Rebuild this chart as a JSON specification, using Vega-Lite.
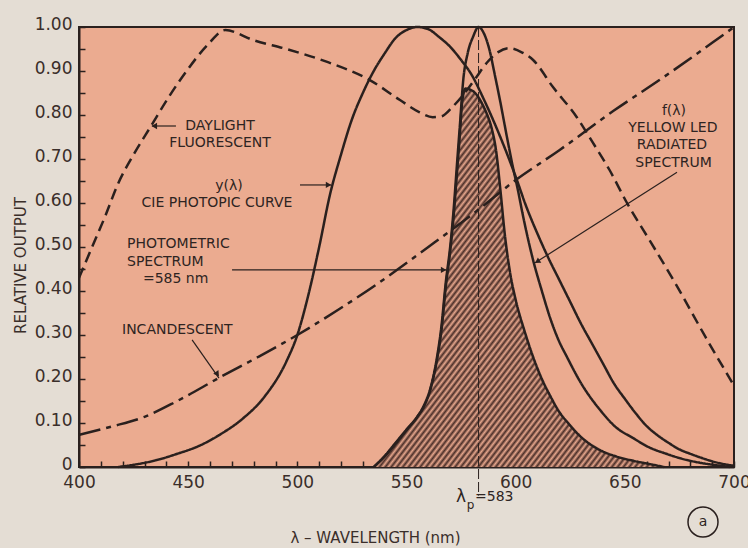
{
"$schema": "https://vega.github.io/schema/vega-lite/v6.json",
"width": 655, "height": 440,
"autosize": {"type": "none"},
"padding": {"left": 79, "top": 27, "right": 14, "bottom": 81},
"background": "#e4ddd4",
"config": {
  "view": {"fill": "#ebab90", "stroke": "#2a201e", "strokeWidth": 2},
  "font": "DejaVu Sans",
  "axis": {"grid": false, "zindex": 1, "domainColor": "#2a201e", "domainWidth": 2, "tickColor": "#2a201e", "tickWidth": 1.5, "tickSize": -6, "labelColor": "#3a2e2a", "labelFontSize": 17, "labelFont": "DejaVu Sans", "titleFont": "DejaVu Sans", "titleFontSize": 15, "titleFontWeight": "normal", "titleColor": "#3a2e2a", "labelFlush": false, "labelOverlap": false}
},
"datasets": {
  "curves": [
    {"s":"df","wl":400,"v":0.43},{"s":"df","wl":406,"v":0.5},{"s":"df","wl":412,"v":0.57},{"s":"df","wl":418,"v":0.645},{"s":"df","wl":425,"v":0.71},{"s":"df","wl":433,"v":0.775},{"s":"df","wl":441,"v":0.84},{"s":"df","wl":450,"v":0.905},{"s":"df","wl":459,"v":0.96},{"s":"df","wl":467,"v":0.993},{"s":"df","wl":480,"v":0.97},{"s":"df","wl":495,"v":0.95},{"s":"df","wl":514,"v":0.92},{"s":"df","wl":533,"v":0.88},{"s":"df","wl":547,"v":0.834},{"s":"df","wl":556,"v":0.806},{"s":"df","wl":562,"v":0.795},{"s":"df","wl":566,"v":0.797},{"s":"df","wl":571,"v":0.818},{"s":"df","wl":577,"v":0.852},{"s":"df","wl":582,"v":0.886},{"s":"df","wl":587,"v":0.92},{"s":"df","wl":592,"v":0.943},{"s":"df","wl":597,"v":0.952},{"s":"df","wl":603,"v":0.942},{"s":"df","wl":608,"v":0.925},{"s":"df","wl":617,"v":0.864},{"s":"df","wl":628,"v":0.795},{"s":"df","wl":635,"v":0.74},{"s":"df","wl":643,"v":0.675},{"s":"df","wl":651,"v":0.6},{"s":"df","wl":662,"v":0.51},{"s":"df","wl":674,"v":0.41},{"s":"df","wl":687,"v":0.295},{"s":"df","wl":700,"v":0.185},
    {"s":"inc","wl":400,"v":0.073},{"s":"inc","wl":415,"v":0.092},{"s":"inc","wl":430,"v":0.114},{"s":"inc","wl":445,"v":0.15},{"s":"inc","wl":465,"v":0.205},{"s":"inc","wl":482,"v":0.25},{"s":"inc","wl":500,"v":0.3},{"s":"inc","wl":518,"v":0.355},{"s":"inc","wl":536,"v":0.414},{"s":"inc","wl":560,"v":0.5},{"s":"inc","wl":583,"v":0.585},{"s":"inc","wl":600,"v":0.652},{"s":"inc","wl":620,"v":0.72},{"s":"inc","wl":645,"v":0.81},{"s":"inc","wl":666,"v":0.88},{"s":"inc","wl":690,"v":0.964},{"s":"inc","wl":700,"v":1.0},
    {"s":"cie","wl":418,"v":0},{"s":"cie","wl":425,"v":0.005},{"s":"cie","wl":435,"v":0.015},{"s":"cie","wl":445,"v":0.03},{"s":"cie","wl":455,"v":0.048},{"s":"cie","wl":465,"v":0.075},{"s":"cie","wl":475,"v":0.11},{"s":"cie","wl":485,"v":0.16},{"s":"cie","wl":495,"v":0.24},{"s":"cie","wl":500,"v":0.3},{"s":"cie","wl":505,"v":0.39},{"s":"cie","wl":510,"v":0.5},{"s":"cie","wl":515,"v":0.62},{"s":"cie","wl":520,"v":0.71},{"s":"cie","wl":525,"v":0.79},{"s":"cie","wl":530,"v":0.85},{"s":"cie","wl":535,"v":0.9},{"s":"cie","wl":540,"v":0.94},{"s":"cie","wl":545,"v":0.975},{"s":"cie","wl":550,"v":0.993},{"s":"cie","wl":555,"v":1.0},{"s":"cie","wl":560,"v":0.995},{"s":"cie","wl":565,"v":0.977},{"s":"cie","wl":570,"v":0.955},{"s":"cie","wl":575,"v":0.925},{"s":"cie","wl":580,"v":0.89},{"s":"cie","wl":585,"v":0.84},{"s":"cie","wl":590,"v":0.785},{"s":"cie","wl":595,"v":0.725},{"s":"cie","wl":600,"v":0.66},{"s":"cie","wl":605,"v":0.59},{"s":"cie","wl":610,"v":0.53},{"s":"cie","wl":615,"v":0.475},{"s":"cie","wl":620,"v":0.425},{"s":"cie","wl":625,"v":0.375},{"s":"cie","wl":630,"v":0.325},{"s":"cie","wl":635,"v":0.28},{"s":"cie","wl":640,"v":0.235},{"s":"cie","wl":645,"v":0.19},{"s":"cie","wl":650,"v":0.155},{"s":"cie","wl":655,"v":0.122},{"s":"cie","wl":660,"v":0.093},{"s":"cie","wl":665,"v":0.072},{"s":"cie","wl":670,"v":0.055},{"s":"cie","wl":675,"v":0.04},{"s":"cie","wl":680,"v":0.03},{"s":"cie","wl":685,"v":0.021},{"s":"cie","wl":690,"v":0.013},{"s":"cie","wl":695,"v":0.007},{"s":"cie","wl":700,"v":0.003},
    {"s":"led","wl":535,"v":0},{"s":"led","wl":540,"v":0.025},{"s":"led","wl":545,"v":0.055},{"s":"led","wl":550,"v":0.085},{"s":"led","wl":555,"v":0.115},{"s":"led","wl":558,"v":0.14},{"s":"led","wl":561,"v":0.18},{"s":"led","wl":564,"v":0.25},{"s":"led","wl":566,"v":0.32},{"s":"led","wl":568,"v":0.42},{"s":"led","wl":570,"v":0.5},{"s":"led","wl":571.5,"v":0.58},{"s":"led","wl":573,"v":0.68},{"s":"led","wl":574.5,"v":0.78},{"s":"led","wl":576,"v":0.88},{"s":"led","wl":578,"v":0.94},{"s":"led","wl":580.5,"v":0.978},{"s":"led","wl":583,"v":1.0},{"s":"led","wl":585.5,"v":0.985},{"s":"led","wl":588,"v":0.948},{"s":"led","wl":590.5,"v":0.89},{"s":"led","wl":592.8,"v":0.834},{"s":"led","wl":596,"v":0.75},{"s":"led","wl":598.8,"v":0.68},{"s":"led","wl":601,"v":0.63},{"s":"led","wl":603.4,"v":0.57},{"s":"led","wl":608,"v":0.47},{"s":"led","wl":612,"v":0.4},{"s":"led","wl":615.7,"v":0.34},{"s":"led","wl":619.5,"v":0.29},{"s":"led","wl":623.5,"v":0.25},{"s":"led","wl":630,"v":0.19},{"s":"led","wl":638.6,"v":0.13},{"s":"led","wl":646,"v":0.09},{"s":"led","wl":653.7,"v":0.066},{"s":"led","wl":661,"v":0.045},{"s":"led","wl":669,"v":0.03},{"s":"led","wl":676,"v":0.019},{"s":"led","wl":684,"v":0.01},{"s":"led","wl":692,"v":0.004},{"s":"led","wl":698,"v":0},
    {"s":"prod","wl":535,"v":0},{"s":"prod","wl":540,"v":0.024},{"s":"prod","wl":545,"v":0.053},{"s":"prod","wl":550,"v":0.084},{"s":"prod","wl":555,"v":0.114},{"s":"prod","wl":558,"v":0.138},{"s":"prod","wl":561,"v":0.177},{"s":"prod","wl":564,"v":0.245},{"s":"prod","wl":566,"v":0.31},{"s":"prod","wl":568,"v":0.41},{"s":"prod","wl":570,"v":0.49},{"s":"prod","wl":571.5,"v":0.565},{"s":"prod","wl":573,"v":0.66},{"s":"prod","wl":574.5,"v":0.76},{"s":"prod","wl":575.5,"v":0.83},{"s":"prod","wl":577,"v":0.86},{"s":"prod","wl":579,"v":0.858},{"s":"prod","wl":581,"v":0.852},{"s":"prod","wl":583,"v":0.84},{"s":"prod","wl":585,"v":0.822},{"s":"prod","wl":587,"v":0.8},{"s":"prod","wl":589,"v":0.77},{"s":"prod","wl":591,"v":0.72},{"s":"prod","wl":593,"v":0.63},{"s":"prod","wl":595,"v":0.53},{"s":"prod","wl":597.5,"v":0.44},{"s":"prod","wl":600,"v":0.38},{"s":"prod","wl":604,"v":0.31},{"s":"prod","wl":608,"v":0.25},{"s":"prod","wl":612,"v":0.2},{"s":"prod","wl":616,"v":0.16},{"s":"prod","wl":620,"v":0.125},{"s":"prod","wl":624,"v":0.1},{"s":"prod","wl":630,"v":0.068},{"s":"prod","wl":638,"v":0.04},{"s":"prod","wl":646,"v":0.024},{"s":"prod","wl":654,"v":0.014},{"s":"prod","wl":662,"v":0.006},{"s":"prod","wl":668,"v":0}
  ],
  "arrows": [
    {"wl":444.4,"v":0.775,"wl2":433.4,"v2":0.775},
    {"wl":501.2,"v":0.641,"wl2":515.4,"v2":0.641},
    {"wl":470.1,"v":0.448,"wl2":568.1,"v2":0.448},
    {"wl":451.8,"v":0.289,"wl2":464.1,"v2":0.202},
    {"wl":673.9,"v":0.67,"wl2":608.9,"v2":0.464}
  ],
  "headsL": [{"wl":434.5,"v":0.775}],
  "headsR": [{"wl":514.3,"v":0.641},{"wl":567,"v":0.448}],
  "headsInc": [{"wl":463.4,"v":0.211}],
  "headsLed": [{"wl":609.9,"v":0.467}],
  "lambdaP": [{"wl":583,"v":1.0,"v2":-0.065}],
  "labelsC": [
    {"t":"DAYLIGHT","wl":464.6,"v":0.776},
    {"t":"FLUORESCENT","wl":464.6,"v":0.737},
    {"t":"y(λ)","wl":468.7,"v":0.639},
    {"t":"CIE PHOTOPIC CURVE","wl":463.2,"v":0.6},
    {"t":"f(λ)","wl":672.5,"v":0.809},
    {"t":"YELLOW LED","wl":672,"v":0.77},
    {"t":"RADIATED","wl":671.6,"v":0.731},
    {"t":"SPECTRUM","wl":672.3,"v":0.692},
    {"t":"a","wl":685.8,"v":-0.125}
  ],
  "labelsL": [
    {"t":"PHOTOMETRIC","wl":422,"v":0.506},
    {"t":"SPECTRUM","wl":422,"v":0.467},
    {"t":"=585 nm","wl":429.3,"v":0.428},
    {"t":"INCANDESCENT","wl":419.7,"v":0.311}
  ],
  "lpBig": [{"t":"λ","wl":575,"v":-0.068}],
  "lpSub": [{"t":"p","wl":579.3,"v":-0.086}],
  "lpNum": [{"t":"=583","wl":581.4,"v":-0.068}],
  "circleA": [{"wl":685.8,"v":-0.125}]
},
"encoding": {
  "x": {"field": "wl", "type": "quantitative", "scale": {"domain": [400, 700], "nice": false, "zero": false},
    "axis": {"values": [400,410,420,430,440,450,460,470,480,490,500,510,520,530,540,550,560,570,580,590,600,610,620,630,640,650,660,670,680,690,700],
      "labelExpr": "datum.value % 50 === 0 ? datum.label : ''", "format": "d", "labelPadding": 13,
      "title": "λ – WAVELENGTH (nm)", "titleX": 296, "titleY": 70, "titleBaseline": "middle"}},
  "y": {"field": "v", "type": "quantitative", "scale": {"domain": [0, 1], "nice": false},
    "axis": {"values": [0,0.05,0.1,0.15,0.2,0.25,0.3,0.35,0.4,0.45,0.5,0.55,0.6,0.65,0.7,0.75,0.8,0.85,0.9,0.95,1],
      "labelExpr": "datum.value === 0 ? '0' : (round(datum.value*100) % 10 === 0 ? format(datum.value, '.2f') : '')", "labelPadding": 13, "labelOffset": -3,
      "title": "RELATIVE OUTPUT", "titleX": -59, "titleY": 238, "titleBaseline": "middle", "titleAngle": -90}}
},
"layer": [
  {"data": {"name": "curves"}, "transform": [{"filter": "datum.s === 'prod'"}],
   "mark": {"type": "area", "interpolate": "monotone", "fill": {"gradient": "linear", "x1": 0, "y1": 0, "x2": 1, "y2": 1, "stops": [
{"offset":0,"color":"#4b2f29"},{"offset":0.005,"color":"#e6a68c"},{"offset":0.01,"color":"#4b2f29"},{"offset":0.015,"color":"#e6a68c"},{"offset":0.02,"color":"#4b2f29"},{"offset":0.025,"color":"#e6a68c"},{"offset":0.03,"color":"#4b2f29"},{"offset":0.035,"color":"#e6a68c"},{"offset":0.04,"color":"#4b2f29"},{"offset":0.045,"color":"#e6a68c"},
{"offset":0.05,"color":"#4b2f29"},{"offset":0.055,"color":"#e6a68c"},{"offset":0.06,"color":"#4b2f29"},{"offset":0.065,"color":"#e6a68c"},{"offset":0.07,"color":"#4b2f29"},{"offset":0.075,"color":"#e6a68c"},{"offset":0.08,"color":"#4b2f29"},{"offset":0.085,"color":"#e6a68c"},{"offset":0.09,"color":"#4b2f29"},{"offset":0.095,"color":"#e6a68c"},
{"offset":0.1,"color":"#4b2f29"},{"offset":0.105,"color":"#e6a68c"},{"offset":0.11,"color":"#4b2f29"},{"offset":0.115,"color":"#e6a68c"},{"offset":0.12,"color":"#4b2f29"},{"offset":0.125,"color":"#e6a68c"},{"offset":0.13,"color":"#4b2f29"},{"offset":0.135,"color":"#e6a68c"},{"offset":0.14,"color":"#4b2f29"},{"offset":0.145,"color":"#e6a68c"},
{"offset":0.15,"color":"#4b2f29"},{"offset":0.155,"color":"#e6a68c"},{"offset":0.16,"color":"#4b2f29"},{"offset":0.165,"color":"#e6a68c"},{"offset":0.17,"color":"#4b2f29"},{"offset":0.175,"color":"#e6a68c"},{"offset":0.18,"color":"#4b2f29"},{"offset":0.185,"color":"#e6a68c"},{"offset":0.19,"color":"#4b2f29"},{"offset":0.195,"color":"#e6a68c"},
{"offset":0.2,"color":"#4b2f29"},{"offset":0.205,"color":"#e6a68c"},{"offset":0.21,"color":"#4b2f29"},{"offset":0.215,"color":"#e6a68c"},{"offset":0.22,"color":"#4b2f29"},{"offset":0.225,"color":"#e6a68c"},{"offset":0.23,"color":"#4b2f29"},{"offset":0.235,"color":"#e6a68c"},{"offset":0.24,"color":"#4b2f29"},{"offset":0.245,"color":"#e6a68c"},
{"offset":0.25,"color":"#4b2f29"},{"offset":0.255,"color":"#e6a68c"},{"offset":0.26,"color":"#4b2f29"},{"offset":0.265,"color":"#e6a68c"},{"offset":0.27,"color":"#4b2f29"},{"offset":0.275,"color":"#e6a68c"},{"offset":0.28,"color":"#4b2f29"},{"offset":0.285,"color":"#e6a68c"},{"offset":0.29,"color":"#4b2f29"},{"offset":0.295,"color":"#e6a68c"},
{"offset":0.3,"color":"#4b2f29"},{"offset":0.305,"color":"#e6a68c"},{"offset":0.31,"color":"#4b2f29"},{"offset":0.315,"color":"#e6a68c"},{"offset":0.32,"color":"#4b2f29"},{"offset":0.325,"color":"#e6a68c"},{"offset":0.33,"color":"#4b2f29"},{"offset":0.335,"color":"#e6a68c"},{"offset":0.34,"color":"#4b2f29"},{"offset":0.345,"color":"#e6a68c"},
{"offset":0.35,"color":"#4b2f29"},{"offset":0.355,"color":"#e6a68c"},{"offset":0.36,"color":"#4b2f29"},{"offset":0.365,"color":"#e6a68c"},{"offset":0.37,"color":"#4b2f29"},{"offset":0.375,"color":"#e6a68c"},{"offset":0.38,"color":"#4b2f29"},{"offset":0.385,"color":"#e6a68c"},{"offset":0.39,"color":"#4b2f29"},{"offset":0.395,"color":"#e6a68c"},
{"offset":0.4,"color":"#4b2f29"},{"offset":0.405,"color":"#e6a68c"},{"offset":0.41,"color":"#4b2f29"},{"offset":0.415,"color":"#e6a68c"},{"offset":0.42,"color":"#4b2f29"},{"offset":0.425,"color":"#e6a68c"},{"offset":0.43,"color":"#4b2f29"},{"offset":0.435,"color":"#e6a68c"},{"offset":0.44,"color":"#4b2f29"},{"offset":0.445,"color":"#e6a68c"},
{"offset":0.45,"color":"#4b2f29"},{"offset":0.455,"color":"#e6a68c"},{"offset":0.46,"color":"#4b2f29"},{"offset":0.465,"color":"#e6a68c"},{"offset":0.47,"color":"#4b2f29"},{"offset":0.475,"color":"#e6a68c"},{"offset":0.48,"color":"#4b2f29"},{"offset":0.485,"color":"#e6a68c"},{"offset":0.49,"color":"#4b2f29"},{"offset":0.495,"color":"#e6a68c"},
{"offset":0.5,"color":"#4b2f29"},{"offset":0.505,"color":"#e6a68c"},{"offset":0.51,"color":"#4b2f29"},{"offset":0.515,"color":"#e6a68c"},{"offset":0.52,"color":"#4b2f29"},{"offset":0.525,"color":"#e6a68c"},{"offset":0.53,"color":"#4b2f29"},{"offset":0.535,"color":"#e6a68c"},{"offset":0.54,"color":"#4b2f29"},{"offset":0.545,"color":"#e6a68c"},
{"offset":0.55,"color":"#4b2f29"},{"offset":0.555,"color":"#e6a68c"},{"offset":0.56,"color":"#4b2f29"},{"offset":0.565,"color":"#e6a68c"},{"offset":0.57,"color":"#4b2f29"},{"offset":0.575,"color":"#e6a68c"},{"offset":0.58,"color":"#4b2f29"},{"offset":0.585,"color":"#e6a68c"},{"offset":0.59,"color":"#4b2f29"},{"offset":0.595,"color":"#e6a68c"},
{"offset":0.6,"color":"#4b2f29"},{"offset":0.605,"color":"#e6a68c"},{"offset":0.61,"color":"#4b2f29"},{"offset":0.615,"color":"#e6a68c"},{"offset":0.62,"color":"#4b2f29"},{"offset":0.625,"color":"#e6a68c"},{"offset":0.63,"color":"#4b2f29"},{"offset":0.635,"color":"#e6a68c"},{"offset":0.64,"color":"#4b2f29"},{"offset":0.645,"color":"#e6a68c"},
{"offset":0.65,"color":"#4b2f29"},{"offset":0.655,"color":"#e6a68c"},{"offset":0.66,"color":"#4b2f29"},{"offset":0.665,"color":"#e6a68c"},{"offset":0.67,"color":"#4b2f29"},{"offset":0.675,"color":"#e6a68c"},{"offset":0.68,"color":"#4b2f29"},{"offset":0.685,"color":"#e6a68c"},{"offset":0.69,"color":"#4b2f29"},{"offset":0.695,"color":"#e6a68c"},
{"offset":0.7,"color":"#4b2f29"},{"offset":0.705,"color":"#e6a68c"},{"offset":0.71,"color":"#4b2f29"},{"offset":0.715,"color":"#e6a68c"},{"offset":0.72,"color":"#4b2f29"},{"offset":0.725,"color":"#e6a68c"},{"offset":0.73,"color":"#4b2f29"},{"offset":0.735,"color":"#e6a68c"},{"offset":0.74,"color":"#4b2f29"},{"offset":0.745,"color":"#e6a68c"},
{"offset":0.75,"color":"#4b2f29"},{"offset":0.755,"color":"#e6a68c"},{"offset":0.76,"color":"#4b2f29"},{"offset":0.765,"color":"#e6a68c"},{"offset":0.77,"color":"#4b2f29"},{"offset":0.775,"color":"#e6a68c"},{"offset":0.78,"color":"#4b2f29"},{"offset":0.785,"color":"#e6a68c"},{"offset":0.79,"color":"#4b2f29"},{"offset":0.795,"color":"#e6a68c"},
{"offset":0.8,"color":"#4b2f29"},{"offset":0.805,"color":"#e6a68c"},{"offset":0.81,"color":"#4b2f29"},{"offset":0.815,"color":"#e6a68c"},{"offset":0.82,"color":"#4b2f29"},{"offset":0.825,"color":"#e6a68c"},{"offset":0.83,"color":"#4b2f29"},{"offset":0.835,"color":"#e6a68c"},{"offset":0.84,"color":"#4b2f29"},{"offset":0.845,"color":"#e6a68c"},
{"offset":0.85,"color":"#4b2f29"},{"offset":0.855,"color":"#e6a68c"},{"offset":0.86,"color":"#4b2f29"},{"offset":0.865,"color":"#e6a68c"},{"offset":0.87,"color":"#4b2f29"},{"offset":0.875,"color":"#e6a68c"},{"offset":0.88,"color":"#4b2f29"},{"offset":0.885,"color":"#e6a68c"},{"offset":0.89,"color":"#4b2f29"},{"offset":0.895,"color":"#e6a68c"},
{"offset":0.9,"color":"#4b2f29"},{"offset":0.905,"color":"#e6a68c"},{"offset":0.91,"color":"#4b2f29"},{"offset":0.915,"color":"#e6a68c"},{"offset":0.92,"color":"#4b2f29"},{"offset":0.925,"color":"#e6a68c"},{"offset":0.93,"color":"#4b2f29"},{"offset":0.935,"color":"#e6a68c"},{"offset":0.94,"color":"#4b2f29"},{"offset":0.945,"color":"#e6a68c"},
{"offset":0.95,"color":"#4b2f29"},{"offset":0.955,"color":"#e6a68c"},{"offset":0.96,"color":"#4b2f29"},{"offset":0.965,"color":"#e6a68c"},{"offset":0.97,"color":"#4b2f29"},{"offset":0.975,"color":"#e6a68c"},{"offset":0.98,"color":"#4b2f29"},{"offset":0.985,"color":"#e6a68c"},{"offset":0.99,"color":"#4b2f29"},{"offset":0.995,"color":"#e6a68c"},
{"offset":1,"color":"#4b2f29"}
   ]}}},
  {"data": {"name": "curves"},
   "mark": {"type": "line", "interpolate": "monotone", "color": "#2a201e"},
   "encoding": {
     "strokeDash": {"field": "s", "type": "nominal", "scale": {"domain": ["df","inc","cie","led","prod"], "range": [[11,6],[22,6,5,6],[1,0],[1,0],[1,0]]}, "legend": null},
     "strokeWidth": {"field": "s", "type": "nominal", "scale": {"domain": ["df","inc","cie","led","prod"], "range": [2.5,2.5,2,2,3]}, "legend": null}
   }},
  {"data": {"name": "lambdaP"}, "mark": {"type": "rule", "color": "#2a201e", "strokeWidth": 1, "strokeDash": [10, 3]},
   "encoding": {"y2": {"field": "v2"}}},
  {"data": {"name": "arrows"}, "mark": {"type": "rule", "color": "#2a201e", "strokeWidth": 1.2},
   "encoding": {"x2": {"field": "wl2"}, "y2": {"field": "v2"}}},
  {"data": {"name": "headsL"}, "mark": {"type": "point", "shape": "triangle-right", "angle": 180, "filled": true, "size": 40, "color": "#2a201e", "opacity": 1}},
  {"data": {"name": "headsR"}, "mark": {"type": "point", "shape": "triangle-right", "angle": 0, "filled": true, "size": 40, "color": "#2a201e", "opacity": 1}},
  {"data": {"name": "headsInc"}, "mark": {"type": "point", "shape": "triangle-right", "angle": 54.6, "filled": true, "size": 40, "color": "#2a201e", "opacity": 1}},
  {"data": {"name": "headsLed"}, "mark": {"type": "point", "shape": "triangle-right", "angle": 147.4, "filled": true, "size": 40, "color": "#2a201e", "opacity": 1}},
  {"data": {"name": "labelsC"}, "mark": {"type": "text", "align": "center", "baseline": "middle", "fontSize": 14, "font": "DejaVu Sans", "color": "#2e2422"},
   "encoding": {"text": {"field": "t"}}},
  {"data": {"name": "labelsL"}, "mark": {"type": "text", "align": "left", "baseline": "middle", "fontSize": 14, "font": "DejaVu Sans", "color": "#2e2422"},
   "encoding": {"text": {"field": "t"}}},
  {"data": {"name": "lpBig"}, "mark": {"type": "text", "align": "center", "baseline": "middle", "fontSize": 17, "font": "DejaVu Sans", "color": "#2e2422"},
   "encoding": {"text": {"field": "t"}}},
  {"data": {"name": "lpSub"}, "mark": {"type": "text", "align": "center", "baseline": "middle", "fontSize": 12, "font": "DejaVu Sans", "color": "#2e2422"},
   "encoding": {"text": {"field": "t"}}},
  {"data": {"name": "lpNum"}, "mark": {"type": "text", "align": "left", "baseline": "middle", "fontSize": 14, "font": "DejaVu Sans", "color": "#2e2422"},
   "encoding": {"text": {"field": "t"}}},
  {"data": {"name": "circleA"}, "mark": {"type": "point", "shape": "circle", "filled": false, "size": 900, "color": "#2a201e", "strokeWidth": 1.5, "opacity": 1}}
]
}
